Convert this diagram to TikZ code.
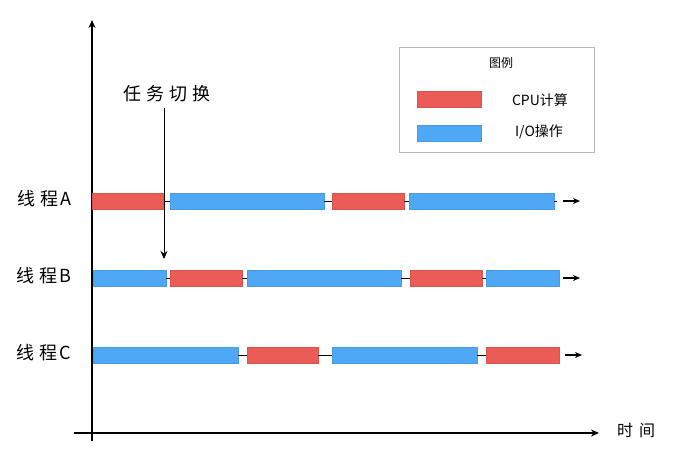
\documentclass[tikz,border=0pt]{standalone}
\usepackage{fontspec}
\newfontfamily\cjk{Noto Sans CJK SC}
\usetikzlibrary{arrows.meta}
\definecolor{cpu}{RGB}{235,92,86}
\definecolor{io}{RGB}{78,168,245}
\begin{document}
\begin{tikzpicture}[x=1pt,y=-1pt,
  bar/.style={minimum height=16pt, inner sep=0pt, outer sep=0pt, anchor=west, line width=0.5pt},
  cpubar/.style={bar, fill=cpu, draw=cpu!92!black},
  iobar/.style={bar, fill=io, draw=io!92!black},
  gap/.style={line width=1pt, black},
  axis/.style={line width=1.5pt, -{Stealth[length=8pt,width=7pt]}},
  flow/.style={line width=1.3pt, -{Stealth[length=7pt,width=6pt]}},
  lbl/.style={font=\cjk\fontsize{18}{18}\selectfont, inner sep=0pt},
  leg/.style={font=\cjk\fontsize{14}{14}\selectfont, inner sep=0pt},
]
\useasboundingbox (0,0) rectangle (692,459);
\fill[white] (0,0) rectangle (692,459);

% axes
\coordinate (yb) at (92,441);
\coordinate (yt) at (92,20);
\coordinate (xl) at (74,433);
\coordinate (xr) at (599,433);
\draw[axis] (yb) -- (yt);
\draw[axis] (xl) -- (xr);
\node[lbl, font=\cjk\fontsize{16}{16}\selectfont] (time) at (636,430) {时\hspace{6pt}间};

% thread labels
\node[lbl] (la) at (44,199) {线\hspace{5pt}程\hspace{2pt}A};
\node[lbl] (lb) at (44,276) {线\hspace{5pt}程\hspace{2pt}B};
\node[lbl] (lc) at (44,353) {线\hspace{5pt}程\hspace{2pt}C};

% thread A
\node[cpubar, minimum width=72pt]  (a1) at (92,201) {};
\node[iobar,  minimum width=154pt] (a2) at (170,201) {};
\node[cpubar, minimum width=72pt]  (a3) at (332,201) {};
\node[iobar,  minimum width=145pt] (a4) at (409,201) {};
\draw[gap] (a1.east) -- (a2.west);
\draw[gap] (a2.east) -- (a3.west);
\draw[gap] (a3.east) -- (a4.west);
\coordinate (a5) at (557,201);
\draw[gap] (a4.east) -- (a5);
\coordinate (as) at (563,201);
\coordinate (ae) at (580,201);
\draw[flow] (as) -- (ae);

% thread B
\node[iobar,  minimum width=73pt]  (b1) at (93,278) {};
\node[cpubar, minimum width=72pt]  (b2) at (170,278) {};
\node[iobar,  minimum width=154pt] (b3) at (247,278) {};
\node[cpubar, minimum width=72pt]  (b4) at (410,278) {};
\node[iobar,  minimum width=73pt]  (b5) at (486,278) {};
\draw[gap] (b1.east) -- (b2.west);
\draw[gap] (b2.east) -- (b3.west);
\draw[gap] (b3.east) -- (b4.west);
\draw[gap] (b4.east) -- (b5.west);
\coordinate (bs) at (563,278);
\coordinate (be) at (580,278);
\draw[flow] (bs) -- (be);

% thread C
\node[iobar,  minimum width=145pt] (c1) at (93,355) {};
\node[cpubar, minimum width=71pt]  (c2) at (247,355) {};
\node[iobar,  minimum width=145pt] (c3) at (332,355) {};
\node[cpubar, minimum width=73pt]  (c4) at (486,355) {};
\draw[gap] (c1.east) -- (c2.west);
\draw[gap] (c2.east) -- (c3.west);
\draw[gap] (c3.east) -- (c4.west);
\coordinate (cs) at (565,355);
\coordinate (ce) at (582,355);
\draw[flow] (cs) -- (ce);

% task switch
\node[lbl, font=\cjk\fontsize{18}{18}\selectfont] (sw) at (167,94) {任\hspace{5pt}务\hspace{5pt}切\hspace{5pt}换};
\coordinate (swt) at (164,108);
\coordinate (swb) at (164,259);
\draw[line width=1pt, -{Stealth[length=8pt,width=7pt]}] (swt) -- (swb);

% legend
\node[draw=gray!55, line width=0.8pt, minimum width=195pt, minimum height=105pt, inner sep=0pt, anchor=north west] (legend) at (399,47) {};
\node[leg, font=\cjk\fontsize{12}{12}\selectfont] (lt) at (501,63) {图例};
\node[cpubar, minimum width=64pt] (lr) at (417,99) {};
\node[leg] (lrt) at (540,100) {CPU计算};
\node[iobar, minimum width=64pt] (lbb) at (417,133) {};
\node[leg] (lbt) at (539,132) {I/O操作};
\end{tikzpicture}
\end{document}
